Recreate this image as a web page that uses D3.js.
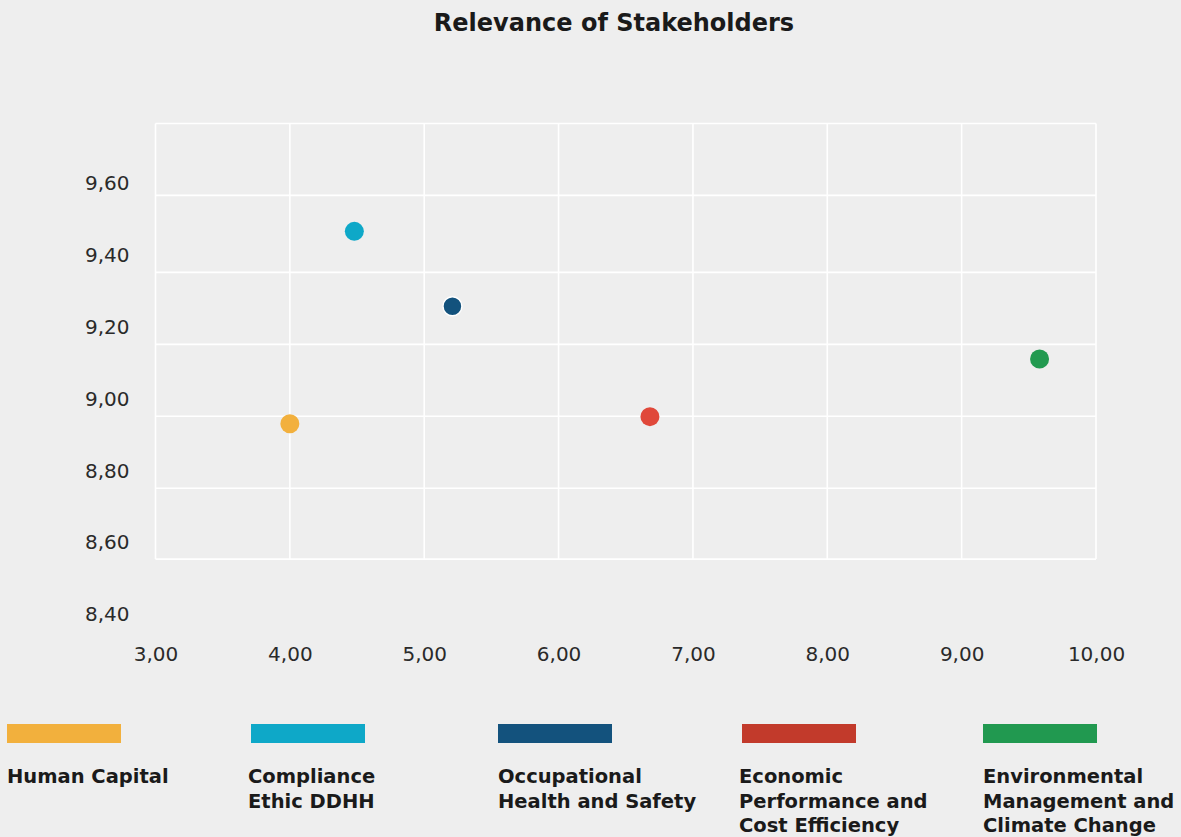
<!DOCTYPE html>
<html lang="en">
<head>
  <meta charset="utf-8">
  <title>Relevance of Stakeholders</title>
  <script src="https://cdn.jsdelivr.net/npm/d3@7"></script>
  <style>
    body { margin: 0; background: #eeeeee; }
    svg { display: block; }
  </style>
</head>
<body>
<script>
  var w = 1181;
  var h = 837;

  // stakeholder topics (legend text split in lines)
  var topics = ["Human Capital", "Compliance Ethic DDHH", "Occupational Health and Safety",
                "Economic Performance and Cost Efficiency", "Environmental Management and Climate Change"];
  var topicLines = [["Human Capital"], ["Compliance", "Ethic DDHH"], ["Occupational", "Health and Safety"],
                    ["Economic", "Performance and", "Cost Efficiency"], ["Environmental", "Management and", "Climate Change"]];
  var xValues = [4.00, 4.48, 5.21, 6.68, 9.58];
  var yValues = [8.93, 9.465, 9.257, 8.95, 9.11];
  var dotColors = ["#f2b03d", "#0ea8c8", "#13527d", "#e0483a", "#229a50"];
  var swatchColors = ["#f2b03d", "#0ea8c8", "#13527d", "#c23a2b", "#219950"];

  var xTicks = [3, 4, 5, 6, 7, 8, 9, 10];
  var yTicks = [8.4, 8.6, 8.8, 9.0, 9.2, 9.4, 9.6];
  // horizontal grid lines sit between the labels in the original
  var yGrid = [8.554, 8.751, 8.951, 9.151, 9.351, 9.565, 9.765];

  var loc = d3.formatLocale({decimal: ",", thousands: ".", grouping: [3], currency: ["", ""]});
  var fmt = loc.format(".2f");

  var svg = d3.select("body").append("svg")
              .attr("width", w)
              .attr("height", h);

  svg.append("rect")
     .attr("width", w).attr("height", h)
     .attr("fill", "#eeeeee");

  var x = d3.scaleLinear().domain([3, 10]).range([155.5, 1096]);
  var y = d3.scaleLinear().domain([8.4, 9.6]).range([614.5, 182.8]);

  // title
  svg.append("text")
     .attr("x", 614).attr("y", 31)
     .attr("text-anchor", "middle")
     .attr("font-family", "DejaVu Sans")
     .attr("font-weight", "bold")
     .attr("font-size", 24)
     .attr("fill", "#1a1a1a")
     .text("Relevance of Stakeholders");

  // grid
  var grid = svg.append("g").attr("class", "grid");
  grid.selectAll("line.v")
      .data(xTicks)
      .enter().append("line")
      .attr("class", "v")
      .attr("x1", function(d) { return x(d); })
      .attr("x2", function(d) { return x(d); })
      .attr("y1", y(yGrid[yGrid.length - 1]))
      .attr("y2", y(yGrid[0]))
      .attr("stroke", "#ffffff")
      .attr("stroke-width", 1.6);
  grid.selectAll("line.h")
      .data(yGrid)
      .enter().append("line")
      .attr("class", "h")
      .attr("x1", x(3)).attr("x2", x(10))
      .attr("y1", function(d) { return y(d); })
      .attr("y2", function(d) { return y(d); })
      .attr("stroke", "#ffffff")
      .attr("stroke-width", 1.6);

  // axes
  var yAxis = svg.append("g")
     .attr("transform", "translate(" + x(3) + ",0)")
     .call(d3.axisLeft(y).tickValues(yTicks).tickFormat(fmt).tickSize(0).tickPadding(26));
  var xAxis = svg.append("g")
     .attr("transform", "translate(0," + 654 + ")")
     .call(d3.axisBottom(x).tickValues(xTicks).tickFormat(fmt).tickSize(0).tickPadding(0));
  svg.selectAll(".domain").remove();
  xAxis.selectAll("text").attr("y", 0).attr("dy", "0.36em");
  svg.selectAll(".tick text")
     .attr("font-family", "DejaVu Sans")
     .attr("font-size", 20)
     .attr("fill", "#2a2a2a");

  // points
  svg.append("g").selectAll("circle")
     .data(topics)
     .enter().append("circle")
     .attr("cx", function(d, i) { return x(xValues[i]); })
     .attr("cy", function(d, i) { return y(yValues[i]); })
     .attr("r", 9.5)
     .attr("fill", function(d, i) { return dotColors[i]; })
     .attr("stroke", function(d, i) { return i == 2 ? "#ffffff" : "none"; })
     .attr("stroke-width", 1.5);

  // legend
  var legX = [7, 251, 498, 742, 983];
  var legend = svg.append("g").selectAll("g")
     .data(topics)
     .enter().append("g")
     .attr("transform", function(d, i) { return "translate(" + legX[i] + ",724)"; });
  legend.append("rect")
     .attr("width", 114).attr("height", 19)
     .attr("fill", function(d, i) { return swatchColors[i]; });
  legend.append("text")
     .attr("x", function(d, i) { return i == 1 ? -3 : (i == 3 ? -3 : 0); })
     .attr("y", 59)
     .attr("font-family", "DejaVu Sans")
     .attr("font-weight", "bold")
     .attr("font-size", 19.5)
     .attr("fill", "#1a1a1a")
     .selectAll("tspan")
     .data(function(d, i) { return topicLines[i]; })
     .enter().append("tspan")
     .attr("x", function() { return d3.select(this.parentNode).attr("x"); })
     .attr("dy", function(d, j) { return j == 0 ? 0 : 24.5; })
     .text(function(d) { return d; });
</script>
</body>
</html>
